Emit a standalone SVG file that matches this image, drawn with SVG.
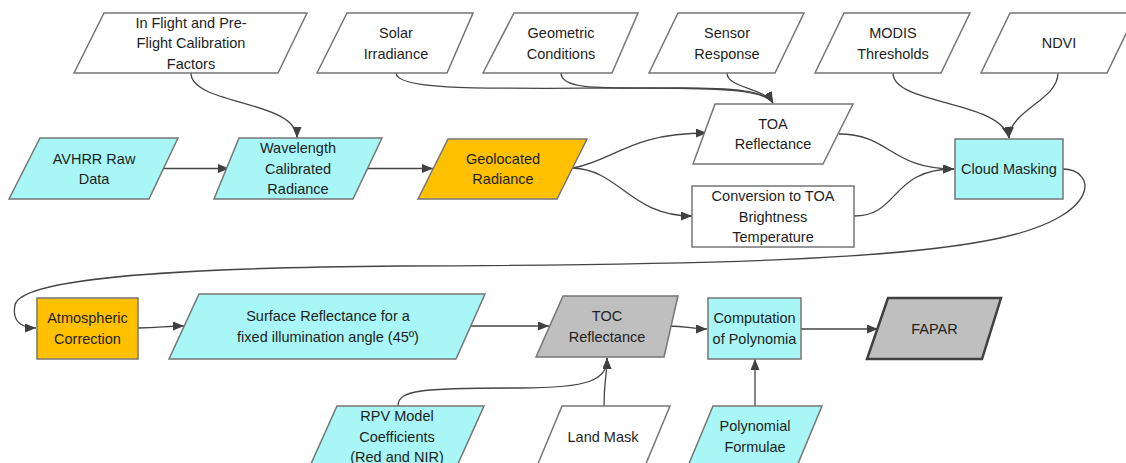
<svg xmlns="http://www.w3.org/2000/svg" width="1126" height="463" viewBox="0 0 1126 463">
<style>
.n{stroke:#767676;stroke-width:1.5}
.w{fill:#ffffff}
.c{fill:#a8f6f6}
.o{fill:#ffc000}
.g{fill:#bfbfbf}
.fa{fill:#bfbfbf;stroke:#404040;stroke-width:2.5}
text{font-family:"Liberation Sans",Arial,sans-serif;font-size:14.5px;fill:#1e1e1e;text-anchor:middle}
.e path{fill:none;stroke:#454545;stroke-width:1.3;marker-end:url(#ah)}
</style>
<defs>
<marker id="ah" markerUnits="userSpaceOnUse" markerWidth="12" markerHeight="10" refX="11" refY="4.5" orient="auto">
<path d="M0,0 L11,4.5 L0,9 z" fill="#404040"/>
</marker>
</defs>
<rect width="1126" height="463" fill="#ffffff"/>
<g id="connectors" class="e">
<path d="M191,73 C191,105 297,100 297,138"/>
<path d="M164,168.5 L229,168.5"/>
<path d="M367,168.5 L433,168.5"/>
<path d="M573,168 C615,160 630,133 707,133"/>
<path d="M573,168 C620,170 630,216 692,216"/>
<path d="M396,73 C396,92 500,88 650,88 C720,88 765,90 773,103"/>
<path d="M561,73 C561,90 600,88 680,88 C730,88 765,90 773,103"/>
<path d="M727,73 C727,88 765,88 773,103"/>
<path d="M839,134 C890,134 890,169 954,169"/>
<path d="M854,216 C900,216 890,169 954,169"/>
<path d="M893,73 C893,105 1000,100 1009,138"/>
<path d="M1058,73 C1058,100 1010,110 1009,138"/>
<path d="M1063,169 C1095,169 1105,215 1000,238 C900,260 700,265 400,266 C150,268 20,280 15,305 C12,320 20,328 36,328"/>
<path d="M138,328 C160,328 165,326 184,326"/>
<path d="M470,326 L549,326"/>
<path d="M667,326 C690,326 690,329 707,329"/>
<path d="M801,329 L878,329"/>
<path d="M398,406 C398,390 420,388 520,388 C590,388 607,380 607,358"/>
<path d="M604,406 C604,380 607,375 607,358"/>
<path d="M755,406 L755,359"/>
</g>
<g id="n-inflight"><polygon class="n w" points="104,13 307,13 278,73 74,73"/><text x="191" y="27.5">In Flight and Pre-</text><text x="191" y="48">Flight Calibration</text><text x="191" y="68.5">Factors</text></g>
<g id="n-solar"><polygon class="n w" points="347,13 473,13 447,73 317,73"/><text x="396" y="38">Solar</text><text x="396" y="58.5">Irradiance</text></g>
<g id="n-geometric"><polygon class="n w" points="514,13 638,13 612,73 483,73"/><text x="561" y="38">Geometric</text><text x="561" y="58.5">Conditions</text></g>
<g id="n-sensor"><polygon class="n w" points="678,13 804,13 775,73 649,73"/><text x="727" y="38">Sensor</text><text x="727" y="58.5">Response</text></g>
<g id="n-modis"><polygon class="n w" points="844,13 970,13 941,73 815,73"/><text x="893" y="38">MODIS</text><text x="893" y="58.5">Thresholds</text></g>
<g id="n-ndvi"><polygon class="n w" points="1010,13 1136,13 1107,73 981,73"/><text x="1059" y="48">NDVI</text></g>
<g id="n-avhrr"><polygon class="n c" points="40,138 178,138 149,199 9,199"/><text x="94" y="163.5">AVHRR Raw</text><text x="94" y="184">Data</text></g>
<g id="n-wavelength"><polygon class="n c" points="239,138 382,138 353,199 214,199"/><text x="298" y="153">Wavelength</text><text x="298" y="173.5">Calibrated</text><text x="298" y="194">Radiance</text></g>
<g id="n-geolocated"><polygon class="n o" points="448,139 587,139 557,199 418,199"/><text x="503" y="163.5">Geolocated</text><text x="503" y="184">Radiance</text></g>
<g id="n-toa"><polygon class="n w" points="715,104 853,104 823,164 693,164"/><text x="773" y="128.5">TOA</text><text x="773" y="149">Reflectance</text></g>
<g id="n-conversion"><rect class="n w" x="692" y="186" width="162" height="61"/><text x="773" y="201">Conversion to TOA</text><text x="773" y="221.5">Brightness</text><text x="773" y="242">Temperature</text></g>
<g id="n-cloud"><rect class="n c" x="955" y="139" width="108" height="60"/><text x="1009" y="174">Cloud Masking</text></g>
<g id="n-atmospheric"><rect class="n o" x="37" y="298" width="101" height="61"/><text x="87.5" y="323">Atmospheric</text><text x="87.5" y="343.5">Correction</text></g>
<g id="n-surface"><polygon class="n c" points="199,294 485,294 456,359 169,359"/><text x="328" y="321">Surface Reflectance for a</text><text x="328" y="341.5">fixed illumination angle (45º)</text></g>
<g id="n-toc"><polygon class="n g" points="563,296 678,296 664,357 536,357"/><text x="607" y="321">TOC</text><text x="607" y="341.5">Reflectance</text></g>
<g id="n-computation"><rect class="n c" x="708" y="298" width="93" height="61"/><text x="754.5" y="323">Computation</text><text x="754.5" y="343.5">of Polynomia</text></g>
<g id="n-fapar"><polygon class="fa" points="888,298 1001,298 982,359 867,359"/><text x="934.5" y="333.5">FAPAR</text></g>
<g id="n-rpv"><polygon class="n c" points="337,406 484,406 457,466 310,466"/><text x="397" y="421">RPV Model</text><text x="397" y="441.5">Coefficients</text><text x="397" y="462">(Red and NIR)</text></g>
<g id="n-landmask"><polygon class="n w" points="562,406 670,406 645,466 537,466"/><text x="603" y="442">Land Mask</text></g>
<g id="n-polynomial"><polygon class="n c" points="713,406 822,406 797,466 688,466"/><text x="755" y="431">Polynomial</text><text x="755" y="451.5">Formulae</text></g>
</svg>
